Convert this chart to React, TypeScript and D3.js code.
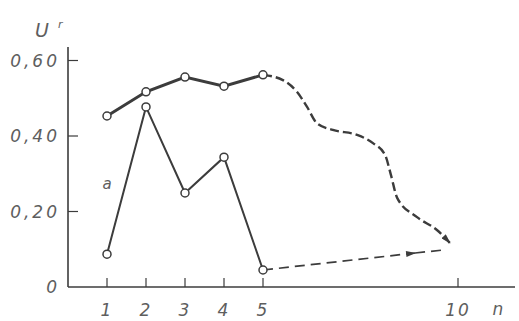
import React from 'react'
import * as d3 from 'd3'

// n values and the two measured series
const steps = [1, 2, 3, 4, 5]
const upperU = [0.453, 0.517, 0.556, 0.532, 0.562]
const lowerU = [0.087, 0.477, 0.249, 0.344, 0.045]

// dashed trend after step 5 (upper curve)
const trendN = [5, 5.51, 5.87, 6.13, 6.38, 6.79, 7.41, 7.82, 8.13, 8.28, 8.44, 8.95, 9.46, 9.79]
const trendU = [0.562, 0.548, 0.517, 0.477, 0.434, 0.416, 0.403, 0.381, 0.35, 0.297, 0.236, 0.185, 0.151, 0.117]

// dashed straight trend of series a
const lowTrendN = [5, 8.9, 9.62]
const lowTrendU = [0.045, 0.09, 0.098]

const xTicks = [1, 2, 3, 4, 5, 10]
const xTickLabels = ['1', '2', '3', '4', '5', '10']
const yTicks = [0, 0.2, 0.4, 0.6]
const yTickLabels = ['0', '0,20', '0,40', '0,60']

const W = 519
const H = 321
const ink = '#3c3c3c'
const textInk = '#5e5e5e'

export default function App() {
  const x = d3.scaleLinear().domain([0, 11]).range([68, 497])
  const y = d3.scaleLinear().domain([0, 0.6]).range([287, 60.5])

  const line = d3.line<[number, number]>()
    .x(d => x(d[0]))
    .y(d => y(d[1]))

  const smooth = d3.line<[number, number]>()
    .x(d => x(d[0]))
    .y(d => y(d[1]))
    .curve(d3.curveMonotoneX)

  const up = steps.map((s, i) => [s, upperU[i]] as [number, number])
  const low = steps.map((s, i) => [s, lowerU[i]] as [number, number])
  const trend = trendN.map((s, i) => [s, trendU[i]] as [number, number])
  const lowTrend = lowTrendN.map((s, i) => [s, lowTrendU[i]] as [number, number])

  const font = {
    fontFamily: 'DejaVu Sans',
    fontStyle: 'italic' as const,
    fill: textInk,
    fontSize: 17,
  }

  return (
    <svg width={W} height={H} style={{ position: 'absolute', left: 0, top: 0, background: '#fff' }}>
      <defs>
        <marker id="arr" viewBox="0 0 10 6" refX="9" refY="3" markerWidth="11" markerHeight="6"
          markerUnits="userSpaceOnUse" orient="auto">
          <path d="M0,0 L10,3 L0,6 Z" fill={ink} />
        </marker>
      </defs>

      {/* axes */}
      <line x1={x(0)} x2={x(0)} y1={47} y2={y(0)} stroke={ink} strokeWidth={1.6} />
      <line x1={x(0)} x2={515} y1={y(0)} y2={y(0)} stroke={ink} strokeWidth={1.6} />
      {yTicks.filter(t => t > 0).map(t => (
        <line key={t} x1={x(0)} x2={x(0) + 10} y1={y(t)} y2={y(t)} stroke={ink} strokeWidth={1.2} />
      ))}
      {xTicks.map(t => (
        <line key={t} x1={x(t)} x2={x(t)} y1={y(0)} y2={y(0) - 9} stroke={ink} strokeWidth={1.2} />
      ))}

      {yTicks.map((t, i) => (
        <text key={t} x={60} y={y(t) + 6} textAnchor="end" letterSpacing={3} {...font}>{yTickLabels[i]}</text>
      ))}
      {xTicks.map((t, i) => (
        <text key={t} x={x(t)} y={316} textAnchor="middle" letterSpacing={2} {...font}>{xTickLabels[i]}</text>
      ))}
      <text x={498} y={315} textAnchor="middle" {...font}>n</text>
      <text x={35} y={37} {...font} fontSize={19}>U</text>
      <text x={58} y={28} {...font} fontSize={11}>r</text>
      <text x={107} y={189} textAnchor="middle" {...font} fontSize={15}>a</text>

      {/* dashed trends */}
      <path d={smooth(trend) || ''} fill="none" stroke={ink} strokeWidth={2.4}
        strokeDasharray="9 4" markerEnd="url(#arr)" />
      <path d={line(lowTrend.slice(0, 2)) || ''} fill="none" stroke={ink} strokeWidth={1.7}
        strokeDasharray="10 6" markerEnd="url(#arr)" />
      <path d={line(lowTrend.slice(1)) || ''} fill="none" stroke={ink} strokeWidth={1.7}
        strokeDasharray="10 6" />

      {/* measured series */}
      <path d={line(up) || ''} fill="none" stroke={ink} strokeWidth={3} />
      <path d={line(low) || ''} fill="none" stroke={ink} strokeWidth={2} />
      {up.concat(low).map((d, i) => (
        <circle key={i} cx={x(d[0])} cy={y(d[1])} r={4} fill="#fff" stroke={ink} strokeWidth={1.5} />
      ))}
    </svg>
  )
}
